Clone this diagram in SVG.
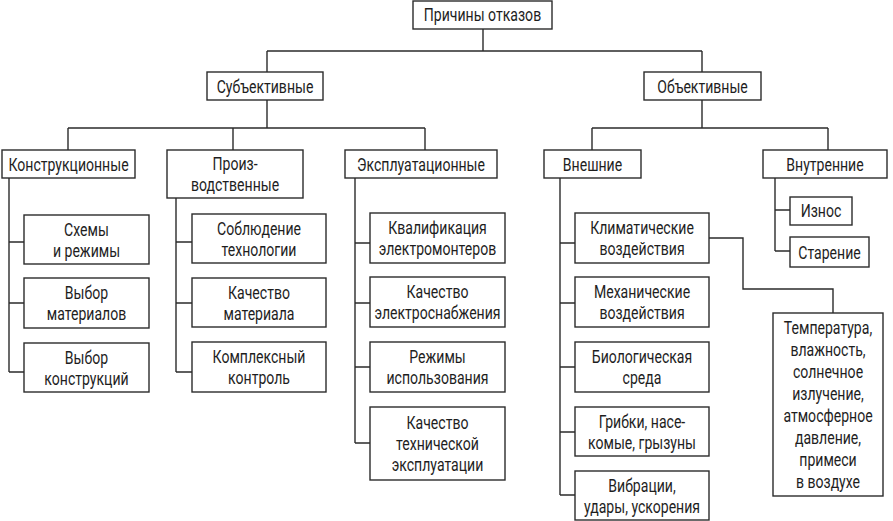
<svg xmlns="http://www.w3.org/2000/svg" width="893" height="521" viewBox="0 0 893 521">
<style>
rect { fill: #fff; stroke: #2b2b2b; stroke-width: 1.4; }
#connectors path { fill: none; stroke: #2b2b2b; stroke-width: 1.4; }
.t { font-family: Roboto, "Liberation Sans", sans-serif; font-size: 18.5px; text-anchor: middle; fill: #1e1e1e; transform: scaleX(0.76); }
</style>
<rect x="0" y="0" width="893" height="521" style="stroke:none"/>
<g id="connectors">
<path d="M483 29V51M267 51H702M267 51V72M702 51V72"/>
<path d="M267 100V128M68 128H425M68 128V150M233 128V150M425 128V150"/>
<path d="M702 100V128M592 128H828M592 128V150M828 128V150"/>
<path d="M9 178V372M9 242H24M9 303H24M9 372H24"/>
<path d="M176 198V372M176 242H192M176 303H192M176 372H192"/>
<path d="M355 178V443M355 243H370M355 303H370M355 367H370M355 443H370"/>
<path d="M560 178V495M560 243H575M560 303H575M560 367H575M560 432H575M560 495H575"/>
<path d="M709 238H743V289H833V313"/>
<path d="M775 178V251M775 210H790M775 251H790"/>
</g>
<g id="n0"><rect x="413" y="1" width="139" height="28"/><g transform="translate(482.5 0)"><text class="t" y="21.5">Причины отказов</text></g></g>
<g id="n1"><rect x="207" y="72" width="116" height="28"/><g transform="translate(265 0)"><text class="t" y="93">Субъективные</text></g></g>
<g id="n2"><rect x="644" y="72" width="117" height="28"/><g transform="translate(702.5 0)"><text class="t" y="93">Объективные</text></g></g>
<g id="n3"><rect x="2" y="150" width="133" height="28"/><g transform="translate(68.5 0)"><text class="t" y="171.5">Конструкционные</text></g></g>
<g id="n4"><rect x="167" y="150" width="136" height="48"/><g transform="translate(235 0)"><text class="t"><tspan x="0" y="170.5">Произ-</tspan><tspan x="0" y="191.5">водственные</tspan></text></g></g>
<g id="n5"><rect x="345" y="150" width="152" height="28"/><g transform="translate(421 0)"><text class="t" y="171.5">Эксплуатационные</text></g></g>
<g id="n6"><rect x="544" y="150" width="97" height="28"/><g transform="translate(592.5 0)"><text class="t" y="171.5">Внешние</text></g></g>
<g id="n7"><rect x="763" y="150" width="124" height="28"/><g transform="translate(825 0)"><text class="t" y="171.5">Внутренние</text></g></g>
<g id="n8"><rect x="24" y="215" width="125" height="49"/><g transform="translate(86.5 0)"><text class="t"><tspan x="0" y="236">Схемы</tspan><tspan x="0" y="257">и режимы</tspan></text></g></g>
<g id="n9"><rect x="24" y="278" width="125" height="50"/><g transform="translate(86.5 0)"><text class="t"><tspan x="0" y="299.5">Выбор</tspan><tspan x="0" y="320.5">материалов</tspan></text></g></g>
<g id="n10"><rect x="24" y="343" width="125" height="49"/><g transform="translate(86.5 0)"><text class="t"><tspan x="0" y="364">Выбор</tspan><tspan x="0" y="385">конструкций</tspan></text></g></g>
<g id="n11"><rect x="192" y="214" width="134" height="49"/><g transform="translate(259 0)"><text class="t"><tspan x="0" y="235">Соблюдение</tspan><tspan x="0" y="256">технологии</tspan></text></g></g>
<g id="n12"><rect x="192" y="278" width="134" height="49"/><g transform="translate(259 0)"><text class="t"><tspan x="0" y="299">Качество</tspan><tspan x="0" y="320">материала</tspan></text></g></g>
<g id="n13"><rect x="192" y="342" width="134" height="50"/><g transform="translate(259 0)"><text class="t"><tspan x="0" y="363.5">Комплексный</tspan><tspan x="0" y="384.5">контроль</tspan></text></g></g>
<g id="n14"><rect x="370" y="213" width="135" height="50"/><g transform="translate(437.5 0)"><text class="t"><tspan x="0" y="234.5">Квалификация</tspan><tspan x="0" y="255.5">электромонтеров</tspan></text></g></g>
<g id="n15"><rect x="370" y="277" width="135" height="50"/><g transform="translate(437.5 0)"><text class="t"><tspan x="0" y="298.5">Качество</tspan><tspan x="0" y="319.5">электроснабжения</tspan></text></g></g>
<g id="n16"><rect x="370" y="342" width="135" height="50"/><g transform="translate(437.5 0)"><text class="t"><tspan x="0" y="363.5">Режимы</tspan><tspan x="0" y="384.5">использования</tspan></text></g></g>
<g id="n17"><rect x="370" y="407" width="135" height="73"/><g transform="translate(437.5 0)"><text class="t"><tspan x="0" y="429.5">Качество</tspan><tspan x="0" y="450.5">технической</tspan><tspan x="0" y="471.5">эксплуатации</tspan></text></g></g>
<g id="n18"><rect x="575" y="213" width="134" height="50"/><g transform="translate(642 0)"><text class="t"><tspan x="0" y="234.5">Климатические</tspan><tspan x="0" y="255.5">воздействия</tspan></text></g></g>
<g id="n19"><rect x="575" y="277" width="134" height="50"/><g transform="translate(642 0)"><text class="t"><tspan x="0" y="298.5">Механические</tspan><tspan x="0" y="319.5">воздействия</tspan></text></g></g>
<g id="n20"><rect x="575" y="342" width="134" height="50"/><g transform="translate(642 0)"><text class="t"><tspan x="0" y="363.5">Биологическая</tspan><tspan x="0" y="384.5">среда</tspan></text></g></g>
<g id="n21"><rect x="575" y="407" width="134" height="49"/><g transform="translate(642 0)"><text class="t"><tspan x="0" y="428">Грибки, насе-</tspan><tspan x="0" y="449">комые, грызуны</tspan></text></g></g>
<g id="n22"><rect x="575" y="471" width="134" height="49"/><g transform="translate(642 0)"><text class="t"><tspan x="0" y="492">Вибрации,</tspan><tspan x="0" y="513">удары, ускорения</tspan></text></g></g>
<g id="n23"><rect x="790" y="197" width="62" height="28"/><g transform="translate(821 0)"><text class="t" y="217.5">Износ</text></g></g>
<g id="n24"><rect x="790" y="237" width="79" height="30"/><g transform="translate(829.5 0)"><text class="t" y="259">Старение</text></g></g>
<g id="n25"><rect x="773" y="313" width="110" height="183"/><g transform="translate(828 0)"><text class="t"><tspan x="0" y="334.5">Температура,</tspan><tspan x="0" y="356.5">влажность,</tspan><tspan x="0" y="378.5">солнечное</tspan><tspan x="0" y="400.5">излучение,</tspan><tspan x="0" y="422.5">атмосферное</tspan><tspan x="0" y="444.5">давление,</tspan><tspan x="0" y="466.5">примеси</tspan><tspan x="0" y="488.5">в воздухе</tspan></text></g></g>
</svg>
